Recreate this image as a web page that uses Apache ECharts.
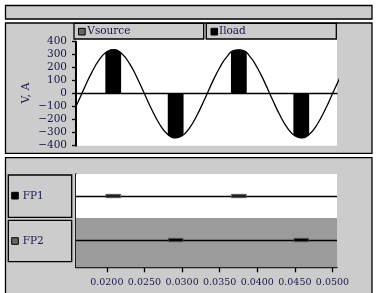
<!DOCTYPE html>
<html><head><meta charset="utf-8">
<script src="https://cdn.jsdelivr.net/npm/echarts@6/dist/echarts.min.js"></script>
<style>html,body{margin:0;padding:0;background:#fff}#c{width:377px;height:293px}</style>
</head><body><div id="c"></div>
<script>
// ---- data ----
const seriesNames = ['Vsource', 'Iload'];
const timeS = [0.015, 0.016, 0.017, 0.018, 0.019, 0.020, 0.021, 0.022, 0.023, 0.024, 0.025,
  0.026, 0.027, 0.028, 0.029, 0.030, 0.031, 0.032, 0.033, 0.034, 0.035, 0.036, 0.037, 0.038,
  0.039, 0.040, 0.041, 0.042, 0.043, 0.044, 0.045, 0.046, 0.047, 0.048, 0.049, 0.050, 0.051];
const vsource = [-200, -85, 43, 164, 262, 323, 339, 308, 233, 125, 0,
  -125, -233, -308, -339, -323, -262, -164, -43, 85, 200, 287, 334, 334,
  287, 200, 85, -43, -164, -262, -323, -339, -308, -233, -125, 0, 125];
const iloadT = [
  [0.0198, 0.0203, 0.0208, 0.0213, 0.0219],
  [0.0365, 0.0370, 0.0375, 0.0380, 0.0386],
  [0.0281, 0.0286, 0.0291, 0.0296, 0.0302],
  [0.0448, 0.0453, 0.0458, 0.0463, 0.0469]
];
const iloadV = [
  [315, 333, 340, 335, 313],
  [316, 334, 340, 334, 311],
  [-313, -332, -340, -335, -315],
  [-315, -333, -340, -335, -313]
];
const fpNames = ['FP1', 'FP2'];
const fp1On = [[0.0198, 0.0219], [0.0365, 0.0386]];
const fp2On = [[0.0281, 0.0302], [0.0448, 0.0469]];
const xTicks = [0.020, 0.025, 0.030, 0.035, 0.040, 0.045, 0.050];
const xMin = 0.0159, xMax = 0.0506;

// ---- chart ----
const F = '"DejaVu Serif"';
const TC = '#17174c';
const chart = echarts.init(document.getElementById('c'), null, {renderer: 'canvas'});

function rect(x, y, w, h, fill, stroke, lw, z) {
  return {type: 'rect', z: z, silent: true, shape: {x: x, y: y, width: w, height: h},
    style: {fill: fill, stroke: stroke || null, lineWidth: lw || 0}};
}
function txt(x, y, s, size, z, rot) {
  return {type: 'text', z: z || 20, silent: true, x: x, y: y, rotation: rot || 0,
    style: {text: s, x: 0, y: 0, font: size + 'px ' + F, fill: TC,
      align: rot ? 'center' : 'left', verticalAlign: 'middle',
      textAlign: rot ? 'center' : 'left', textVerticalAlign: 'middle'}};
}

const graphic = [
  rect(5.5, 5.5, 366.5, 13.5, '#cccccc', '#000', 1.3, -5),
  rect(5.5, 23, 366.5, 130.3, '#cccccc', '#000', 1.3, -5),
  rect(5.5, 157.7, 366.5, 140, '#cccccc', '#000', 1.3, -5),
  rect(76, 39, 261, 106.7, '#ffffff', null, 0, -4),
  rect(74, 23.3, 129.7, 15.7, '#cccccc', '#000', 1.3, -3),
  rect(206.3, 23.3, 130, 15.7, '#cccccc', '#000', 1.3, -3),
  rect(78.5, 28.3, 6.7, 6.7, '#666666', '#000', 1, 10),
  rect(211, 28.3, 6.5, 6.7, '#000000', '#000', 1, 10),
  txt(87.3, 31.5, seriesNames[0], 10.5),
  txt(219, 31.5, seriesNames[1], 10.5),
  txt(26, 93, 'V, A', 11, 20, Math.PI / 2),
  rect(8.3, 175, 63.4, 42.3, '#cccccc', '#000', 1.3, -3),
  rect(8.3, 220.3, 63.4, 41.3, '#cccccc', '#000', 1.3, -3),
  rect(11.7, 192.3, 6.6, 6.7, '#000000', '#000', 1, 10),
  rect(11.7, 237.7, 6.6, 6.6, '#666666', '#000', 1, 10),
  txt(22.7, 196.5, fpNames[0], 10.5),
  txt(22.7, 241.5, fpNames[1], 10.5)
];

const series = [];
iloadT.forEach((ts, k) => {
  series.push({
    name: seriesNames[1], type: 'line', xAxisIndex: 0, yAxisIndex: 0, z: 2,
    data: ts.map((t, i) => [t, iloadV[k][i]]), smooth: true, symbol: 'none',
    lineStyle: {color: '#000', width: 0.5}, areaStyle: {color: '#000', opacity: 1}
  });
});
series.push({
  name: seriesNames[0], type: 'line', xAxisIndex: 0, yAxisIndex: 0, z: 3,
  data: timeS.map((t, i) => [t, vsource[i]]), smooth: true, symbol: 'none',
  lineStyle: {color: '#000', width: 1.3}
});
const fpData = [];
fp1On.forEach(p => fpData.push([p[0], p[1], 1]));
fp2On.forEach(p => fpData.push([p[0], p[1], 2]));
series.push({
  type: 'custom', xAxisIndex: 1, yAxisIndex: 1, z: 4,
  data: fpData,
  encode: {x: [0, 1], y: 2},
  renderItem: (params, api) => {
    const a = api.coord([api.value(0), api.value(2)]);
    const b = api.coord([api.value(1), api.value(2)]);
    const h = 3.4;
    return {type: 'rect', shape: {x: a[0] + 0.5, y: a[1] - h / 2, width: b[0] - a[0] - 1, height: h},
      style: {fill: api.value(2) === 1 ? '#1e1e1e' : '#000', stroke: '#5e5e5e', lineWidth: 0.8}};
  },
  markArea: {
    silent: true, z: 0.5,
    data: [
      [{yAxis: 0.5, itemStyle: {color: '#ffffff'}}, {yAxis: 1.5}],
      [{yAxis: 1.5, itemStyle: {color: '#9b9b9b'}}, {yAxis: 2.62}]
    ]
  },
  markLine: {
    silent: true, z: 1, symbol: 'none', label: {show: false},
    lineStyle: {color: '#000', width: 1.3, type: 'solid'},
    data: [{yAxis: 1}, {yAxis: 2}]
  }
});

const option = {
  animation: false,
  backgroundColor: '#ffffff',
  graphic: graphic,
  grid: [
    {left: 76, top: 41.7, width: 261, height: 104},
    {left: 76, top: 174, width: 261, height: 93.3}
  ],
  xAxis: [
    {gridIndex: 0, type: 'value', min: xMin, max: xMax,
      axisLine: {show: true, onZero: true, lineStyle: {color: '#000', width: 1.3}},
      axisTick: {show: false}, axisLabel: {show: false}, splitLine: {show: false}},
    {gridIndex: 1, type: 'value', min: xMin, max: xMax,
      axisLine: {show: true, onZero: false, lineStyle: {color: '#000', width: 1.3}},
      axisTick: {show: true, customValues: xTicks, length: 5, lineStyle: {color: '#000', width: 1.3}},
      axisLabel: {customValues: xTicks, formatter: v => v.toFixed(4), fontFamily: F, fontSize: 9.5,
        color: TC, margin: 10},
      splitLine: {show: false}}
  ],
  yAxis: [
    {gridIndex: 0, type: 'value', min: -400, max: 400, interval: 100,
      axisLine: {show: true, onZero: false, lineStyle: {color: '#000', width: 2}},
      axisTick: {show: true, length: 4, lineStyle: {color: '#000', width: 1.3}},
      axisLabel: {formatter: v => String(v).replace('-', '\u2212'), fontFamily: F, fontSize: 10.5,
        color: TC, margin: 9},
      splitLine: {show: false}},
    {gridIndex: 1, type: 'value', inverse: true, min: 0.5, max: 2.62,
      axisLine: {show: true, onZero: false, lineStyle: {color: '#000', width: 1.7}},
      axisTick: {show: false}, axisLabel: {show: false}, splitLine: {show: false}}
  ],
  series: series
};
chart.setOption(option);
</script>
</body></html>
